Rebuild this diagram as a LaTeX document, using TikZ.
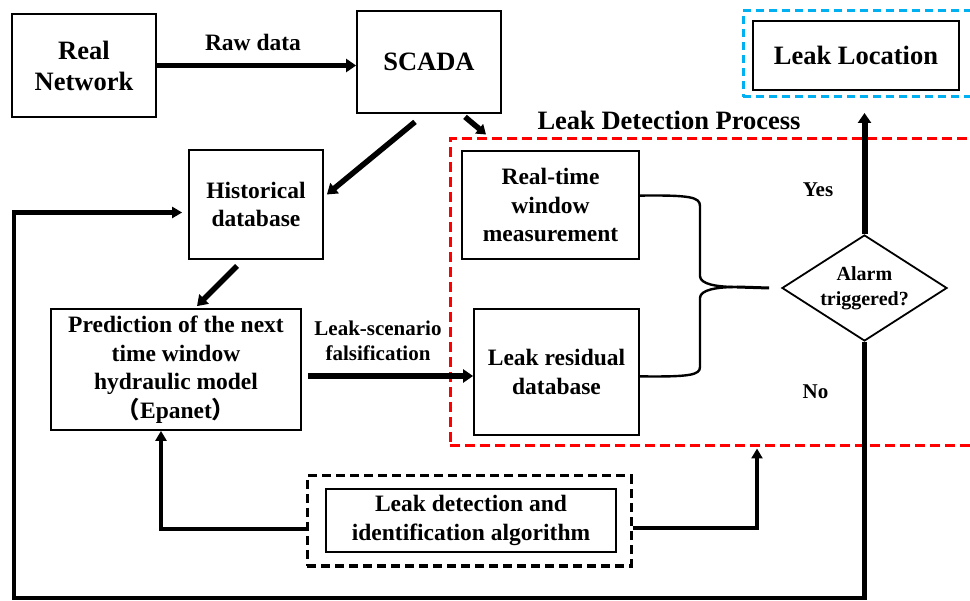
\documentclass[tikz,border=0pt]{standalone}
\usepackage{fontspec}
\setmainfont{Liberation Serif}
\newfontfamily\cjk{Noto Sans CJK SC}
\usetikzlibrary{arrows.meta,shapes.geometric,calc}
\definecolor{skyb}{RGB}{0,176,240}
\tikzset{
  box/.style={draw, line width=1.8pt, inner sep=0pt, align=center, font=\bfseries\fontsize{23.5}{28.5}\selectfont},
  bigbox/.style={box, font=\bfseries\fontsize{26.5}{31}\selectfont},
  lbl/.style={inner sep=0pt, align=center, font=\bfseries\fontsize{21}{25}\selectfont},
  arrA/.style={line width=5.5pt, -{Triangle[length=10pt,width=13pt]}},
  arrB/.style={line width=4.5pt, -{Triangle[length=10pt,width=11pt]}},
  brace/.style={line width=2.4pt},
  reddash/.style={draw=red, line width=3pt, dash pattern=on 10pt off 5pt},
  bluedash/.style={draw=skyb, line width=3pt, dash pattern=on 8pt off 5pt},
  blackdash/.style={draw, line width=3pt, dash pattern=on 9pt off 5pt},
}
\begin{document}
\begin{tikzpicture}[x=1pt,y=-1pt]
\useasboundingbox (0,0) rectangle (970,601);
\fill[white] (0,0) rectangle (970,601);
\clip (0,0) rectangle (970,601);

% dashed frames
\node[reddash, minimum width=540pt, minimum height=307pt, inner sep=0pt] (ldp) at (720,292.5) {};
\node[bluedash, minimum width=247pt, minimum height=86pt, inner sep=0pt] (locdash) at (866.5,54) {};
\node[blackdash, minimum width=324pt, minimum height=90pt, inner sep=0pt] (algdash) at (469,521) {};

% boxes
\node[bigbox, minimum width=144pt, minimum height=103pt] (real) at (84,65.5) {Real\\Network};
\node[bigbox, minimum width=144pt, minimum height=102pt] (scada) at (429,62) {SCADA};
\node[box, minimum width=134pt, minimum height=109pt] (hist) at (256,204.5) {Historical\\database};
\node[box, minimum width=250pt, minimum height=121pt] (pred) at (176,369.5) {Prediction of the next\\time window\\hydraulic model\\{\cjk （}Epanet{\cjk ）}};
\node[box, minimum width=177pt, minimum height=108pt] (rtw) at (550.5,205) {Real-time\\window\\measurement};
\node[box, minimum width=165pt, minimum height=126pt] (lrd) at (556.5,372) {Leak residual\\database};
\node[bigbox, minimum width=206pt, minimum height=69pt] (loc) at (856,55.5) {Leak Location};
\node[box, minimum width=290pt, minimum height=63pt] (alg) at (471,520.5) {Leak detection and\\identification algorithm};
\node[draw, shape=diamond, line width=1.8pt, aspect=1.56, inner sep=0pt, minimum width=165pt, minimum height=106pt, align=center, font=\bfseries\fontsize{20}{25}\selectfont] (dia) at (864.5,288) {Alarm\\triggered?};

% labels
\node[lbl, font=\bfseries\fontsize{23.5}{28}\selectfont] (rawlbl) at (253,42) {Raw data};
\node[lbl, font=\bfseries\fontsize{26.5}{31}\selectfont] (ldplbl) at (669,120) {Leak Detection Process};
\node[lbl] (yes) at (818,190) {Yes};
\node[lbl] (no) at (815.5,392) {No};
\node[lbl] (lsf) at (378,341) {Leak-scenario\\falsification};

% arrows
\draw[arrA] (real.east) -- (scada.west |- real.east);
\draw[arrA] ([shift={(-14,8)}]scada.south) -- ([shift={(3,-10)}]hist.east);
\draw[arrA, -{Triangle[length=9pt,width=12pt]}] ([shift={(36,3)}]scada.south) -- ([shift={(-234,-3)}]ldp.north);
\draw[arrA] ([shift={(-19,6)}]hist.south) -- ([shift={(21,-2)}]pred.north);
\draw[arrA] ([shift={(6,6.5)}]pred.east) -- ([shift={(0,4)}]lrd.west);
\coordinate (yesend) at (864.5,113);
\draw[arrA, line width=6pt] (dia.north) -- (yesend);
\draw[arrB] ([shift={(0,8)}]algdash.west) -| ([shift={(-15,0)}]pred.south);
\draw[arrB] ([shift={(0,7)}]algdash.east) -| ([shift={(37,1)}]ldp.south);
\coordinate (bl) at (14,598);
\draw[arrB] (dia.south) |- (bl) |- ([shift={(-6,8)}]hist.west);

% brace
\coordinate (tip) at (737,287);
\draw[brace] (rtw.6) .. controls (690,195) and (700,197) .. (700,206) -- (700,276) .. controls (700,284) and (716,287) .. (tip);
\draw[brace] (lrd.-3.5) .. controls (690,377) and (700,375) .. (700,367) -- (700,298) .. controls (700,290) and (716,287) .. (tip);
\draw[line width=3pt] (tip) -- ([shift={(-12,0)}]dia.west);
\end{tikzpicture}
\end{document}
